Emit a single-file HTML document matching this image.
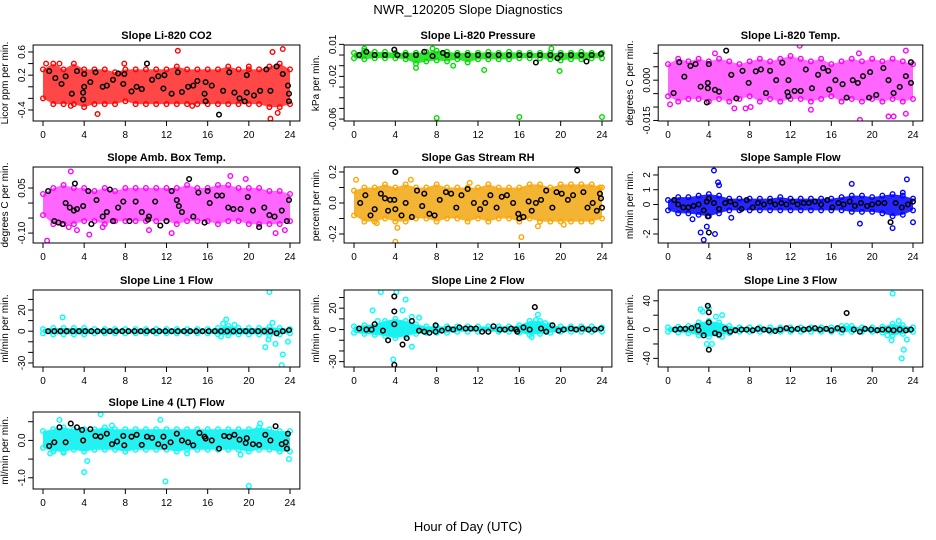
<!DOCTYPE html>
<html><head><meta charset="utf-8"><style>
html,body{margin:0;padding:0;background:#fff;}
svg{display:block;font-family:"Liberation Sans",Arial,sans-serif;}
</style></head><body>
<svg id="chart" width="936" height="540" viewBox="0 0 936 540">
<text x="468" y="14" text-anchor="middle" font-size="13">NWR_120205  Slope Diagnostics</text>
<text x="468" y="531" text-anchor="middle" font-size="13">Hour of Day (UTC)</text>
</svg>
<script>
// shared category axis (hours)
const bandHours=[0,1,2,3,4,5,6,7,8,9,10,11,12,13,14,15,16,17,18,19,20,21,22,23,24];
const xTicks=[0,4,8,12,16,20,24];

// Panel 1 CO2
const co2Hi=[0.3,0.4,0.3,0.4,0.3,0.3,0.3,0.25,0.3,0.3,0.3,0.3,0.3,0.35,0.3,0.3,0.3,0.3,0.35,0.3,0.3,0.3,0.35,0.4,0.3];
const co2Lo=[-0.2,-0.3,-0.3,-0.3,-0.35,-0.3,-0.3,-0.3,-0.25,-0.3,-0.3,-0.3,-0.3,-0.3,-0.3,-0.3,-0.3,-0.3,-0.3,-0.3,-0.3,-0.3,-0.35,-0.35,-0.3];
const co2OutX=[5.3,13.1,22.1,23.3,22.3,7.9,1.6,0.3,2.7,22.8,14.5,20.0];
const co2OutY=[-0.47,0.62,-0.55,0.65,0.6,0.4,0.4,0.4,-0.33,-0.45,-0.33,0.35];
const co2BlkX=[0.6,1.2,1.8,2.2,2.8,3.3,3.9,3.9,4.0,4.0,4.6,5.1,5.8,6.2,6.8,7.3,7.8,7.9,8.6,9.1,9.6,10.1,10.6,11.2,11.7,11.8,12.5,13.1,13.5,14.1,14.6,15.0,15.7,15.8,15.8,16.4,17.1,17.5,18.1,18.6,19.1,19.6,19.8,19.8,20.5,21.1,21.7,22.1,22.7,23.3,23.8,23.9,23.9];
const co2BlkY=[0.27,0.15,0.05,0.18,-0.12,0.27,-0.1,-0.22,0.0,0.22,0.08,0.25,0.0,0.02,0.12,0.23,0.05,0.22,-0.08,0.0,-0.04,0.4,0.12,0.18,-0.03,0.2,-0.12,0.25,-0.09,0.0,0.02,0.1,-0.12,-0.25,0.08,0.02,-0.48,-0.07,0.25,-0.1,-0.2,-0.25,0.2,-0.1,-0.15,-0.07,0.3,-0.07,0.35,0.22,0.02,-0.25,-0.12];

// Panel 2 Pressure
const prsHi=[0.002,0.004,0.003,0.003,0.002,0.002,0.002,0.003,0.004,0.003,0.002,0.002,0.002,0.003,0.002,0.003,0.002,0.002,0.002,0.002,0.002,0.002,0.003,0.002,0.002];
const prsLo=[-0.003,-0.004,-0.003,-0.003,-0.003,-0.004,-0.008,-0.006,-0.005,-0.006,-0.004,-0.007,-0.004,-0.004,-0.004,-0.004,-0.003,-0.003,-0.003,-0.004,-0.005,-0.004,-0.004,-0.003,-0.003];
const prsOutX=[8.0,16.0,24.0,19.1,12.6,19.9,6.0,1.0,7.6,9.6];
const prsOutY=[-0.059,-0.058,-0.058,0.006,-0.014,-0.015,-0.012,0.006,0.006,-0.01];
const prsBlkX=[0.5,1.2,2.0,3.0,3.9,4.2,5.0,6.0,6.8,7.6,8.6,9.0,10.0,11.0,12.0,13.0,14.0,15.0,16.0,17.0,17.6,18.0,19.0,19.7,20.0,21.0,22.0,22.5,23.0,23.9];
const prsBlkY=[0,0.003,0,0,0.005,0,0,0,0.003,-0.001,0.002,0,0,0,0,0,0,0,0,0,-0.007,0,0,-0.003,0,0,0,-0.006,0,0.001];

// Panel 3 Temp
const tmpHi=[0.006,0.008,0.007,0.008,0.007,0.008,0.007,0.006,0.007,0.008,0.007,0.008,0.009,0.008,0.007,0.008,0.006,0.007,0.008,0.007,0.008,0.007,0.008,0.007,0.006];
const tmpLo=[-0.006,-0.008,-0.007,-0.007,-0.008,-0.007,-0.008,-0.007,-0.006,-0.008,-0.007,-0.008,-0.007,-0.007,-0.008,-0.007,-0.006,-0.008,-0.007,-0.008,-0.007,-0.008,-0.007,-0.008,-0.007];
const tmpOutX=[12.9,18.8,14.0,21.6,22.1,23.3,0.2,23.3,8.1,6.5,7.6,4.6,18.7];
const tmpOutY=[0.0128,-0.0148,-0.011,-0.0135,-0.0135,-0.0125,-0.009,0.011,-0.01,-0.0105,-0.0105,0.01,0.01];
const tmpBlkX=[0.55,1.1,1.6,2.2,2.7,3.2,3.8,3.9,3.9,4.0,4.6,5.0,5.7,6.2,6.7,7.3,7.9,8.6,9.1,9.6,10.0,10.6,11.2,11.7,11.8,11.8,12.4,13.0,13.5,14.1,14.7,15.2,15.7,15.8,16.4,17.1,17.5,18.1,18.6,19.1,19.7,19.8,20.4,21.1,21.6,22.1,22.7,23.3,23.8,23.8];
const tmpBlkY=[-0.0048,0.0067,0.0013,0.0053,0.006,-0.0024,-0.0083,-0.001,-0.003,0.006,-0.0036,-0.0043,0.011,0.002,-0.0068,0.0035,-0.001,0.0033,0.004,-0.0048,0.0035,0.0,0.0065,-0.0045,0.0,-0.006,-0.004,-0.004,0.004,-0.003,0.002,0.0045,0.0035,-0.0035,0.0,-0.0015,-0.0065,0.0,-0.001,0.0015,-0.0065,0.003,-0.0055,0.0045,0.0,-0.0048,-0.0025,0.0015,0.0067,-0.001];

// Panel 4 Amb Box Temp
const ambHi=[0.03,0.05,0.06,0.05,0.05,0.04,0.05,0.04,0.05,0.05,0.05,0.05,0.05,0.05,0.06,0.05,0.05,0.06,0.06,0.05,0.05,0.05,0.04,0.04,0.03];
const ambLo=[-0.04,-0.07,-0.07,-0.07,-0.06,-0.06,-0.07,-0.06,-0.06,-0.06,-0.06,-0.06,-0.06,-0.07,-0.06,-0.06,-0.06,-0.07,-0.06,-0.06,-0.07,-0.07,-0.07,-0.07,-0.06];
const ambOutX=[2.7,0.4,4.5,2.5,3.3,19.7,22.6,23.5,12.5,18.2,10.3,5.8];
const ambOutY=[0.105,-0.125,-0.105,-0.08,-0.09,0.08,-0.1,-0.09,-0.1,0.09,-0.09,-0.08];
const ambBlkX=[0.5,1.1,1.5,1.9,2.2,2.6,3.1,3.0,3.3,3.9,4.4,4.7,5.2,5.8,6.2,6.5,6.8,7.3,7.8,8.4,9.0,9.6,10.2,10.3,10.9,11.4,12.0,12.5,13.0,13.2,13.5,14.2,14.6,15.1,15.7,16.0,16.2,16.9,17.4,18.0,18.5,19.2,19.9,20.4,21.0,21.5,22.0,22.5,23.2,23.7,23.9];
const ambBlkY=[0.04,-0.06,-0.065,-0.07,0.0,-0.015,0.065,-0.025,-0.02,-0.01,0.04,-0.07,0.01,-0.045,-0.03,0.045,-0.06,-0.015,0.005,-0.06,0.005,-0.03,-0.055,-0.045,0.005,-0.075,-0.06,0.04,0.01,-0.01,-0.03,0.08,-0.045,0.035,-0.065,0.04,0.0,0.025,0.025,-0.015,-0.02,-0.02,0.02,-0.025,-0.08,-0.015,-0.04,-0.045,-0.025,-0.06,0.01];

// Panel 5 Gas Stream RH
const rhHi=[0.08,0.1,0.1,0.12,0.1,0.12,0.1,0.1,0.12,0.1,0.1,0.1,0.1,0.12,0.1,0.1,0.1,0.12,0.12,0.1,0.12,0.12,0.12,0.12,0.1];
const rhLo=[-0.08,-0.12,-0.12,-0.1,-0.12,-0.12,-0.1,-0.1,-0.12,-0.1,-0.1,-0.12,-0.1,-0.12,-0.1,-0.1,-0.12,-0.1,-0.12,-0.12,-0.12,-0.12,-0.12,-0.12,-0.1];
const rhOutX=[0.2,2.2,4.2,4.0,16.2,23.8,11.2,17.8,5.5,20.3];
const rhOutY=[0.15,-0.13,-0.16,-0.25,-0.22,0.1,0.13,-0.15,0.15,-0.14];
const rhBlkX=[0.6,1.1,1.6,2.0,2.6,3.0,3.3,3.5,3.9,4.0,4.0,4.6,5.0,5.6,6.1,6.6,6.8,7.3,7.8,8.3,8.9,9.4,9.9,10.4,11.0,11.6,12.2,12.7,13.2,13.8,14.3,14.8,15.4,15.9,16.0,16.4,16.9,17.2,17.6,18.1,18.6,19.2,19.6,20.1,20.7,21.2,21.6,22.2,22.6,23.1,23.5,23.8,23.9,24.0];
const rhBlkY=[0.0,0.05,-0.08,-0.04,0.06,0.03,-0.05,0.02,0.02,0.2,-0.04,-0.08,0.0,-0.09,0.08,-0.02,0.06,-0.07,-0.08,0.02,0.07,0.06,-0.03,0.05,0.09,0.0,-0.04,0.0,0.05,-0.03,0.04,0.05,0.0,-0.07,-0.1,-0.09,0.01,-0.05,0.0,0.02,0.08,-0.03,0.07,0.06,0.02,0.05,0.21,0.07,-0.03,0.0,-0.05,0.06,0.03,-0.03];

// Panel 6 Sample Flow
const sfHi=[0.3,0.5,0.5,0.6,0.7,0.6,0.4,0.4,0.4,0.4,0.4,0.5,0.4,0.4,0.4,0.4,0.4,0.5,0.6,0.6,0.5,0.6,0.7,0.6,0.4];
const sfLo=[-0.4,-0.6,-0.6,-0.7,-0.8,-0.6,-0.4,-0.4,-0.4,-0.4,-0.4,-0.4,-0.4,-0.4,-0.4,-0.4,-0.4,-0.4,-0.5,-0.5,-0.5,-0.6,-0.8,-0.7,-0.4];
const sfOutX=[4.5,3.2,3.5,3.8,4.6,5.0,4.9,18.0,18.8,22.0,23.4,24.0,23.0,2.4,6.2];
const sfOutY=[2.3,-1.9,-2.4,-1.5,-2.0,1.3,1.5,1.4,-1.3,-1.6,1.7,-1.2,0.8,-1.0,-0.9];
const sfBlkX=[0.6,1.0,1.5,2.0,2.5,3.0,3.5,3.8,3.9,4.0,4.0,4.5,5.0,5.6,6.1,6.6,7.2,7.7,8.3,8.8,9.4,10.0,10.5,11.1,11.6,12.2,12.7,13.3,13.8,14.4,15.0,15.6,16.1,16.7,17.2,17.8,18.3,18.9,19.5,20.0,20.6,21.2,21.8,22.3,22.9,23.5,24.0];
const sfBlkY=[0.3,0.0,-0.2,-0.2,-0.1,0.0,-0.4,0.2,-0.8,-1.9,0.4,0.1,-0.3,0.1,0.2,0.0,-0.3,0.3,-0.2,0.1,0.0,0.2,0.0,0.1,0.0,0.2,0.0,0.1,0.1,0.2,0.0,0.3,-0.2,0.1,0.0,0.2,-0.1,0.1,-0.1,0.0,0.1,0.1,-1.2,0.1,-0.2,0.0,0.2];

// Panel 7 Line 1 Flow
const l1Hi=[2,3,3,3,3,2,2,2,2,2,2,2,2,2,2,2,2,3,5,3,3,3,4,3,2];
const l1Lo=[-2,-3,-3,-3,-3,-2,-2,-2,-2,-2,-2,-2,-2,-2,-2,-2,-2,-3,-4,-3,-3,-3,-4,-3,-2];
const l1OutX=[1.9,22.0,17.3,17.8,17.5,21.6,22.3,22.6,23.3,23.2,23.8,18.6,21.9];
const l1OutY=[13,37,-5,11,7,-15,8,-12,-22,-32,-10,6,-8];
const l1BlkX=[0.5,1.1,1.7,2.3,2.9,3.5,4.1,4.7,5.3,5.9,6.5,7.1,7.7,8.3,8.9,9.5,10.1,10.7,11.3,11.9,12.5,13.1,13.7,14.3,14.9,15.5,16.1,16.7,17.3,17.9,18.5,19.1,19.7,20.3,20.9,21.5,22.1,22.7,23.3,23.9];
const l1BlkY=[0,0,0,0,0,0,0,0,0,0,0,0,0,0,0,0,0,0,0,0,0,0,0,0,0,0,0,0,0,0,0,0,0,0,0,0,0,-2,0,1];

// Panel 8 Line 2 Flow
const l2Hi=[3,4,5,8,10,8,5,3,3,3,3,3,3,3,3,3,4,8,8,4,3,3,3,3,2];
const l2Lo=[-3,-4,-5,-6,-8,-6,-4,-3,-3,-3,-2,-2,-2,-2,-2,-2,-3,-5,-4,-3,-2,-2,-2,-2,-2];
const l2OutX=[2.6,4.1,5.0,3.8,1.8,4.7,5.6,5.6,6.3,3.0,17.8,17.6,18.5,17.2,2.3];
const l2OutY=[35,35,28,-28,18,18,-16,12,11,5,14,9,6,-7,8];
const l2BlkX=[0.5,1.2,1.7,2.0,2.8,3.3,3.9,3.9,3.9,3.9,4.7,5.1,5.6,6.3,6.8,7.3,7.9,7.9,8.5,9.1,9.6,10.2,10.8,11.3,11.8,12.4,13.0,13.5,14.1,14.6,15.2,15.7,15.8,16.4,17.0,17.5,18.1,18.6,19.2,19.8,20.3,21.0,21.5,22.1,22.7,23.3,23.9];
const l2BlkY=[1,0,0,5,-1,-10,31,17,5,-33,-14,-8,8,-1,-2,-3,4,-2,-1,1,0,2,1,1,1,-2,-2,3,0,0,1,0,-2,2,0,21,1,-2,4,-1,0,1,0,1,0,0,1];

// Panel 9 Line 3 Flow
const l3Hi=[3,4,5,10,12,10,5,3,3,3,3,3,3,3,3,3,3,5,5,3,3,4,8,6,3];
const l3Lo=[-3,-4,-5,-8,-10,-8,-5,-3,-3,-3,-3,-3,-3,-3,-3,-3,-3,-4,-3,-3,-3,-4,-8,-6,-3];
const l3OutX=[3.2,3.4,4.0,4.7,5.3,3.8,4.3,5.3,22.0,22.6,22.9,23.1,23.4,21.9,21.5,17.5];
const l3OutY=[28,25,30,18,20,-20,-20,-10,50,12,-40,-28,-14,-15,-8,5];
const l3BlkX=[0.7,1.2,1.7,2.3,2.9,3.0,3.5,3.9,4.0,4.0,4.0,4.6,5.0,5.6,6.1,6.6,7.2,7.7,8.3,8.8,9.4,9.9,10.5,11.0,11.6,12.1,12.7,13.3,13.8,14.4,14.9,15.5,16.0,16.6,17.1,17.5,18.2,18.8,19.3,19.9,20.5,21.0,21.6,22.1,22.7,23.3,23.8];
const l3BlkY=[0,1,1,2,5,-1,-8,33,24,10,-28,-5,-7,1,-3,-1,0,0,-1,1,0,-1,-2,0,2,0,1,0,1,2,0,1,-1,2,0,23,0,-3,1,0,-1,0,0,-1,0,-1,0];

// Panel 10 Line 4 (LT) Flow
const l4Hi=[0.25,0.3,0.35,0.3,0.3,0.3,0.35,0.3,0.3,0.3,0.3,0.3,0.3,0.3,0.3,0.3,0.3,0.3,0.3,0.3,0.3,0.35,0.3,0.25,0.25];
const l4Lo=[-0.2,-0.3,-0.3,-0.25,-0.3,-0.25,-0.25,-0.25,-0.3,-0.25,-0.25,-0.25,-0.25,-0.3,-0.25,-0.25,-0.25,-0.25,-0.25,-0.25,-0.3,-0.25,-0.25,-0.3,-0.3];
const l4OutX=[5.6,1.6,11.4,4.0,4.3,11.9,20.0,23.9,19.2,2.0,0.7,21.1,14.0,6.7];
const l4OutY=[0.7,0.55,0.55,-0.85,-0.55,-1.1,-1.22,-0.5,-0.38,-0.33,-0.35,0.45,-0.35,0.4];
const l4BlkX=[0.6,1.1,1.6,2.2,2.7,3.3,3.8,3.9,4.6,5.1,5.6,6.2,6.7,7.2,7.8,7.9,8.6,9.1,9.6,10.1,10.6,11.2,11.7,11.8,12.4,13.0,13.5,14.1,14.6,15.2,15.7,15.8,16.4,17.1,17.6,18.1,18.6,19.1,19.7,19.8,20.4,21.0,21.6,22.1,22.6,23.2,23.8,23.7,23.6];
const l4BlkY=[-0.15,-0.05,0.35,-0.05,0.45,0.35,0.28,0.0,0.3,0.12,0.1,0.18,-0.1,-0.03,0.12,-0.13,0.1,0.15,-0.12,0.1,0.07,-0.1,0.1,-0.17,-0.05,0.18,0.0,-0.05,-0.13,0.2,0.1,0.05,0.0,-0.22,0.12,0.1,0.15,0.02,-0.07,0.06,-0.1,-0.12,0.15,0.0,0.38,-0.1,0.18,-0.22,-0.05];

// ---- layout (not data) ----
const cols=[{x0:43,x24:290},{x0:354,x24:602},{x0:668,x24:913}];
const rows=[{t:45,b:121},{t:167,b:243},{t:290,b:367},{t:412,b:489}];
const NS='http://www.w3.org/2000/svg';
const svg=document.getElementById('chart');
function mk(tag,attrs,parent){const e=document.createElementNS(NS,tag);for(const k in attrs)e.setAttribute(k,attrs[k]);(parent||svg).appendChild(e);return e;}

const panels=[
 {key:'co2',title:'Slope Li-820 CO2',ylab:'Licor ppm per min.',c:0,r:0,ylim:[-0.59,0.72],ticks:[-0.4,-0.2,0,0.2,0.4,0.6],labs:['-0.4','','','0.2','','0.6'],hi:co2Hi,lo:co2Lo,ox:co2OutX,oy:co2OutY,bx:co2BlkX,by:co2BlkY,col:'#ff0000',fill:'#ff0000',op:0.72},
 {key:'pressure',title:'Slope Li-820 Pressure',ylab:'kPa per min.',c:1,r:0,ylim:[-0.0618,0.0094],ticks:[0.01,0,-0.01,-0.02,-0.03,-0.04,-0.05,-0.06],labs:['0.01','','','-0.02','','','','-0.06'],hi:prsHi,lo:prsLo,ox:prsOutX,oy:prsOutY,bx:prsBlkX,by:prsBlkY,col:'#00dd00',fill:'#00dd00',op:0.8},
 {key:'temp',title:'Slope Li-820 Temp.',ylab:'degrees C per min.',c:2,r:0,ylim:[-0.0152,0.0131],ticks:[-0.015,-0.01,-0.005,0,0.005,0.01],labs:['-0.015','','','0.000','',''],hi:tmpHi,lo:tmpLo,ox:tmpOutX,oy:tmpOutY,bx:tmpBlkX,by:tmpBlkY,col:'#ff00ff',fill:'#ff00ff',op:0.6},
 {key:'amb-box-temp',title:'Slope Amb. Box Temp.',ylab:'degrees C per min.',c:0,r:1,ylim:[-0.133,0.12],ticks:[-0.1,-0.05,0,0.05],labs:['-0.10','','','0.05'],hi:ambHi,lo:ambLo,ox:ambOutX,oy:ambOutY,bx:ambBlkX,by:ambBlkY,col:'#ff00ff',fill:'#ff00ff',op:0.6},
 {key:'gas-rh',title:'Slope Gas Stream RH',ylab:'percent per min.',c:1,r:1,ylim:[-0.258,0.232],ticks:[-0.2,-0.1,0,0.1,0.2],labs:['-0.2','','0.0','','0.2'],hi:rhHi,lo:rhLo,ox:rhOutX,oy:rhOutY,bx:rhBlkX,by:rhBlkY,col:'#ffa500',fill:'#f0a000',op:0.8},
 {key:'sample-flow',title:'Slope Sample Flow',ylab:'ml/min per min.',c:2,r:1,ylim:[-2.61,2.54],ticks:[-2,-1,0,1,2],labs:['-2','','0','1','2'],hi:sfHi,lo:sfLo,ox:sfOutX,oy:sfOutY,bx:sfBlkX,by:sfBlkY,col:'#0000ff',fill:'#0000ff',op:0.85},
 {key:'line1-flow',title:'Slope Line 1 Flow',ylab:'ml/min per min.',c:0,r:2,ylim:[-33.8,38.9],ticks:[-30,-20,-10,0,10,20,30],labs:['-30','','','0','','20',''],hi:l1Hi,lo:l1Lo,ox:l1OutX,oy:l1OutY,bx:l1BlkX,by:l1BlkY,col:'#00ffff',fill:'#00eeee',op:0.9},
 {key:'line2-flow',title:'Slope Line 2 Flow',ylab:'ml/min per min.',c:1,r:2,ylim:[-35,37],ticks:[-30,-20,-10,0,10,20,30],labs:['-30','','','0','','20',''],hi:l2Hi,lo:l2Lo,ox:l2OutX,oy:l2OutY,bx:l2BlkX,by:l2BlkY,col:'#00ffff',fill:'#00eeee',op:0.9},
 {key:'line3-flow',title:'Slope Line 3 Flow',ylab:'ml/min per min.',c:2,r:2,ylim:[-52,55],ticks:[-40,-20,0,20,40],labs:['-40','','0','','40'],hi:l3Hi,lo:l3Lo,ox:l3OutX,oy:l3OutY,bx:l3BlkX,by:l3BlkY,col:'#00ffff',fill:'#00eeee',op:0.9},
 {key:'line4-flow',title:'Slope Line 4 (LT) Flow',ylab:'ml/min per min.',c:0,r:3,ylim:[-1.3,0.76],ticks:[-1,-0.5,0,0.5],labs:['-1.0','','0.0',''],hi:l4Hi,lo:l4Lo,ox:l4OutX,oy:l4OutY,bx:l4BlkX,by:l4BlkY,col:'#00ffff',fill:'#00eeee',op:0.85}
];

panels.forEach(p=>{
  const C=cols[p.c],R=rows[p.r];
  const sx=(C.x24-C.x0)/24;
  const xs=h=>C.x0+h*sx;
  const left=xs(-0.96),right=xs(24.96);
  const ys=v=>R.b-(v-p.ylim[0])/(p.ylim[1]-p.ylim[0])*(R.b-R.t);
  const g=mk('g',{});
  
  
  const clip=mk('clipPath',{id:'clip-'+p.key},g);
  mk('rect',{x:left,y:R.t,width:right-left,height:R.b-R.t},clip);
  const t=mk('text',{x:(left+right)/2,y:R.t-6,'text-anchor':'middle','font-size':11,'font-weight':'bold'},g);
  t.textContent=p.title;
  
  
  const yl=mk('text',{x:0,y:0,'text-anchor':'middle','font-size':10,transform:`translate(${left-25},${(R.t+R.b)/2}) rotate(-90)`},g);
  yl.textContent=p.ylab;
  
  
  const plot=mk('g',{'clip-path':`url(#clip-${p.key})`},g);
  let pts=bandHours.map((h,i)=>xs(h)+','+ys(p.hi[i]));
  pts=pts.concat(bandHours.map((h,i)=>xs(h)+','+ys(p.lo[i])).reverse());
  const band=mk('polygon',{points:pts.join(' '),fill:p.fill,'fill-opacity':p.op,stroke:'none'},plot);
  
  
  bandHours.forEach((h,i)=>{
    [p.hi[i],p.lo[i]].forEach(v=>{
      const c=mk('circle',{cx:xs(h),cy:ys(v),r:2.3,fill:'none',stroke:p.col,'stroke-width':1.4},plot);
      
      
    });
  });
  p.ox.forEach((x,i)=>{
    const c=mk('circle',{cx:xs(x),cy:ys(p.oy[i]),r:2.3,fill:'none',stroke:p.col,'stroke-width':1.4},plot);
    
    
  });
  p.bx.forEach((x,i)=>{
    const c=mk('circle',{cx:xs(x),cy:ys(p.by[i]),r:2.3,fill:'none',stroke:'#000','stroke-width':1.5},plot);
    
    
  });
  const box=mk('rect',{x:left,y:R.t,width:right-left,height:R.b-R.t,fill:'none',stroke:'#000','stroke-width':1},g);
  
  
  mk('line',{x1:xs(0),x2:xs(24),y1:R.b,y2:R.b,stroke:'#000'},g);
  xTicks.forEach(h=>{
    mk('line',{x1:xs(h),x2:xs(h),y1:R.b,y2:R.b+5,stroke:'#000'},g);
    const tl=mk('text',{x:xs(h),y:R.b+17,'text-anchor':'middle','font-size':10},g);
    tl.textContent=h;
    
    
  });
  p.ticks.forEach((v,i)=>{
    const y=ys(v);
    mk('line',{x1:left-5,x2:left,y1:y,y2:y,stroke:'#000'},g);
    if(p.labs[i]){
      const tl=mk('text',{x:0,y:0,'text-anchor':'middle','font-size':10,transform:`translate(${left-8},${y}) rotate(-90)`},g);
      tl.textContent=p.labs[i];
      
      
    }
  });
});
</script>
</body></html>
